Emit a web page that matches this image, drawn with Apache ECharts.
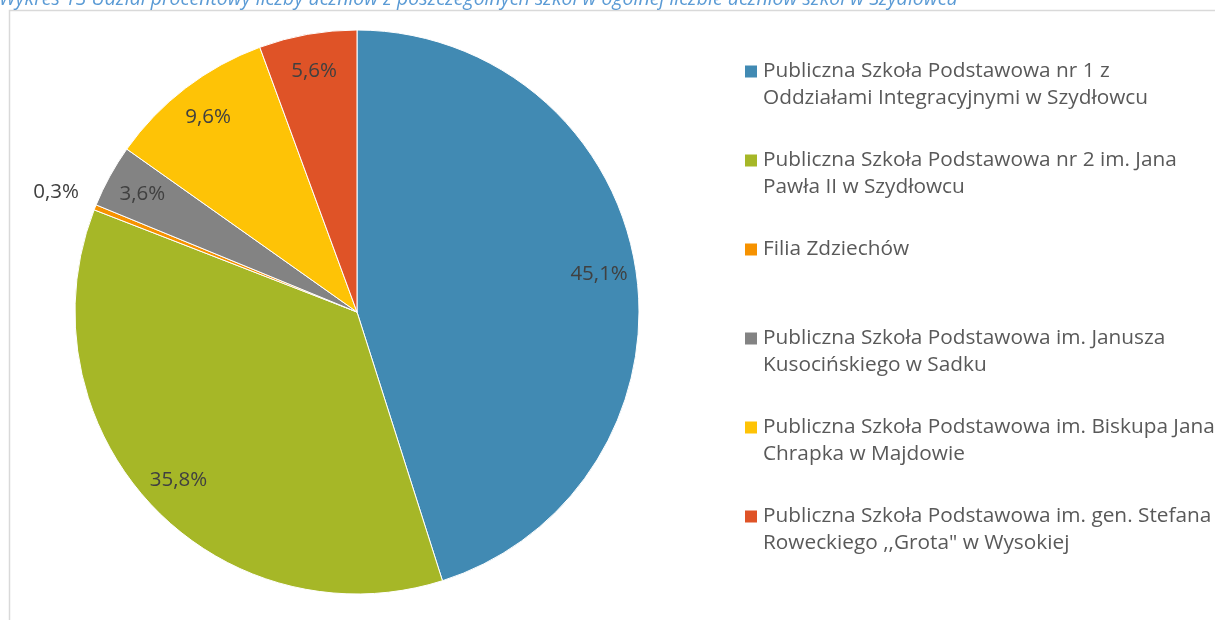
<!DOCTYPE html>
<html>
<head>
<meta charset="utf-8">
<script src="https://cdn.jsdelivr.net/npm/echarts@6/dist/echarts.min.js"></script>
<style>
  html, body { margin: 0; padding: 0; background: #fff; }
  #chart { width: 1215px; height: 620px; }
</style>
</head>
<body>
<div id="chart"></div>
<script>
// dane z wykresu
var szkoly = [
  'Publiczna Szkoła Podstawowa nr 1 z\nOddziałami Integracyjnymi w Szydłowcu',
  'Publiczna Szkoła Podstawowa nr 2 im. Jana\nPawła II w Szydłowcu',
  'Filia Zdziechów',
  'Publiczna Szkoła Podstawowa im. Janusza\nKusocińskiego w Sadku',
  'Publiczna Szkoła Podstawowa im. Biskupa Jana\nChrapka w Majdowie',
  'Publiczna Szkoła Podstawowa im. gen. Stefana\nRoweckiego ,,Grota" w Wysokiej'
];
var udzial = [45.1, 35.8, 0.3, 3.6, 9.6, 5.6];
var kolory = ['#418AB3', '#A6B727', '#F69200', '#838383', '#FEC306', '#DF5327'];

var myChart = echarts.init(document.getElementById('chart'));

function procent(p) {
  return p.value.toFixed(1).replace('.', ',') + '%';
}

var daneKola = szkoly.map(function (n, i) {
  return { name: n, value: udzial[i], itemStyle: { color: kolory[i] } };
});
// etykiety wewnatrz - przezroczysty pierscien blisko krawedzi
var daneWew = szkoly.map(function (n, i) {
  return {
    name: n, value: udzial[i],
    itemStyle: { color: 'rgba(0,0,0,0)' },
    label: { show: udzial[i] >= 1 }
  };
});
// etykiety na zewnatrz dla bardzo malych wycinkow
var daneZew = szkoly.map(function (n, i) {
  return {
    name: n, value: udzial[i],
    itemStyle: { color: 'rgba(0,0,0,0)' },
    label: { show: udzial[i] < 1 }
  };
});

var etykieta = {
  position: 'inside',
  color: '#404040',
  fontSize: 20.5,
  fontFamily: 'Open Sans',
  formatter: procent
};

var option = {
  backgroundColor: '#fff',
  animation: false,
  title: {
    text: 'Wykres 13 Udział procentowy liczby uczniów z poszczególnych szkół w ogólnej liczbie uczniów szkół w Szydłowcu',
    left: -1,
    top: -11,
    padding: 0,
    textStyle: {
      color: '#5B9BD5',
      fontStyle: 'italic',
      fontWeight: 'normal',
      fontSize: 19.5,
      fontFamily: 'Open Sans'
    }
  },
  graphic: [{
    type: 'rect',
    shape: { x: 9.5, y: 10.5, width: 1400, height: 800 },
    style: { fill: 'none', stroke: '#D9D9D9', lineWidth: 1.5 },
    silent: true
  }],
  legend: {
    orient: 'vertical',
    left: 743,
    top: 31,
    padding: 0,
    itemWidth: 14,
    itemHeight: 14,
    itemGap: 8,
    icon: 'rect',
    data: szkoly,
    formatter: function (n) {
      // pusta linia na gorze, zeby kwadrat stal przy pierwszym wierszu
      return ' \n' + n + (n.indexOf('\n') < 0 ? '\n ' : '');
    },
    textStyle: {
      color: '#595959',
      fontSize: 20.8,
      lineHeight: 27,
      fontFamily: 'Open Sans'
    }
  },
  series: [
    {
      name: 'udzial',
      type: 'pie',
      center: [357, 312],
      radius: [0, 282],
      startAngle: 90,
      clockwise: true,
      data: daneKola,
      label: { show: false },
      labelLine: { show: false },
      itemStyle: { borderColor: '#fff', borderWidth: 1 },
      emphasis: { disabled: true }
    },
    {
      name: 'etykiety',
      type: 'pie',
      center: [357, 312],
      radius: [202, 282],
      startAngle: 90,
      silent: true,
      data: daneWew,
      label: etykieta,
      labelLine: { show: false },
      emphasis: { disabled: true }
    },
    {
      name: 'etykiety2',
      type: 'pie',
      center: [357, 312],
      radius: [282, 360],
      startAngle: 90,
      silent: true,
      data: daneZew,
      label: etykieta,
      labelLine: { show: false },
      emphasis: { disabled: true }
    }
  ]
};

myChart.setOption(option);
</script>
</body>
</html>
